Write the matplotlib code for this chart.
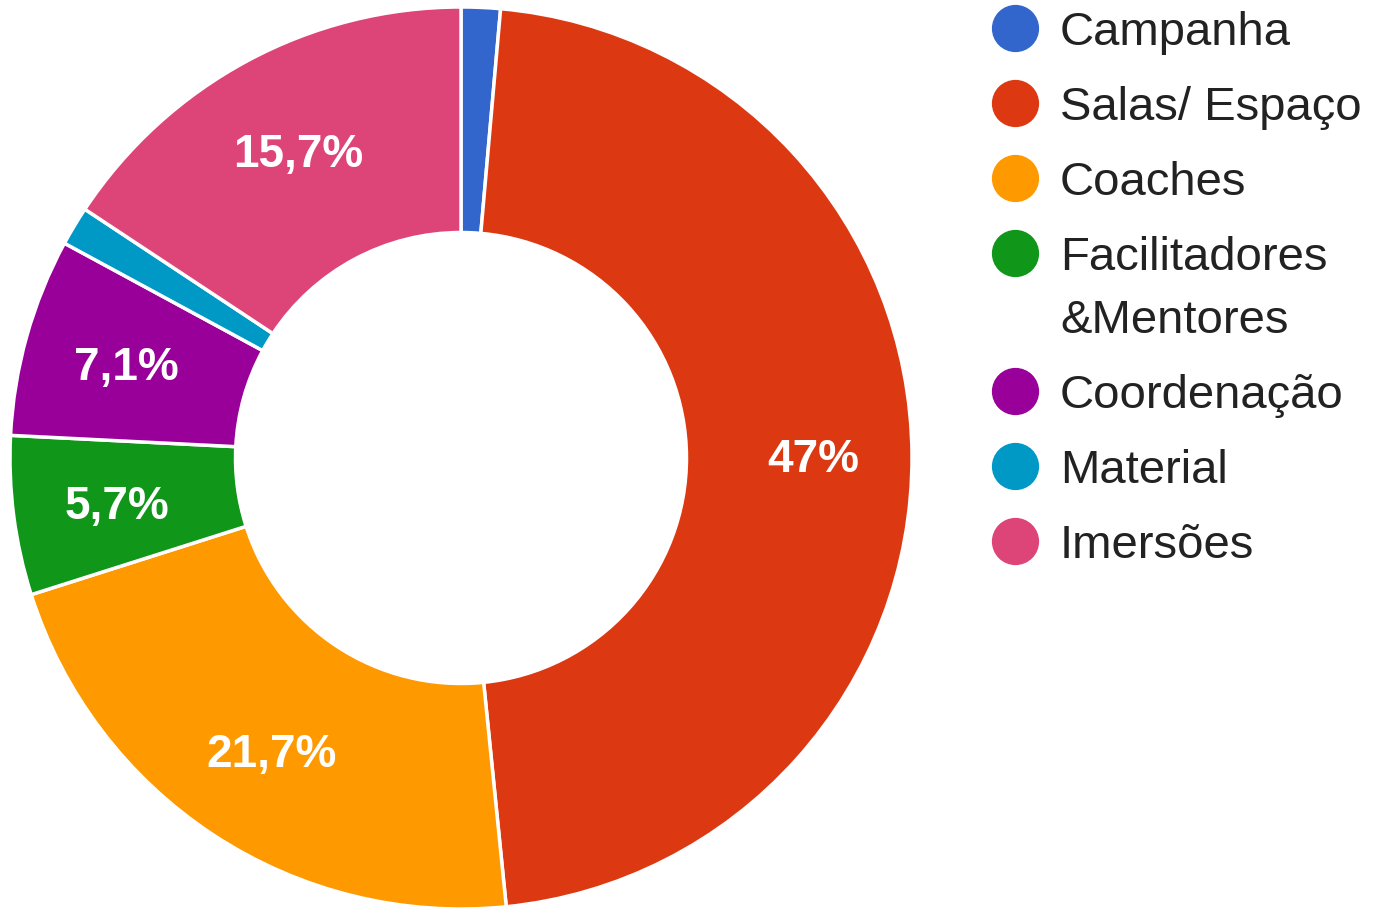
import matplotlib
matplotlib.use("Agg")
import matplotlib.pyplot as plt
import numpy as np
from matplotlib.lines import Line2D

plt.rcParams['font.family'] = ['Liberation Sans', 'DejaVu Sans']

# data
categories = ["Campanha", "Salas/ Espaço", "Coaches", "Facilitadores\n&Mentores",
              "Coordenação", "Material", "Imersões"]
values = [1.4, 47.0, 21.7, 5.7, 7.1, 1.4, 15.7]
labels = ["", "47%", "21,7%", "5,7%", "7,1%", "", "15,7%"]
colors = ["#3366cc", "#dc3912", "#ff9900", "#109618", "#990099", "#0099c6", "#dd4477"]

W, H = 1383, 908
fig = plt.figure(figsize=(W / 100, H / 100), dpi=100)
ax = fig.add_axes([10 / W, -1 / H, 902 / W, 902 / H])

wedges, _ = ax.pie(values, colors=colors, startangle=90, counterclock=False,
                   radius=1.0, wedgeprops=dict(width=0.5, edgecolor="white", linewidth=2.5))

# percentage labels in the middle of the ring
total = sum(values)
start = 90.0
for v, lab in zip(values, labels):
    mid = start - v / total * 360 / 2
    start -= v / total * 360
    if not lab:
        continue
    r = 0.775
    ax.text(r * np.cos(np.radians(mid)) + 0.005, r * np.sin(np.radians(mid)) - 0.01, lab,
            ha="center", va="center", color="white", fontsize=33, fontweight="bold")

ax.set_xlim(-1, 1)
ax.set_ylim(-1, 1)
ax.set_aspect("equal")
ax.axis("off")

# legend drawn by hand so the marker lines up with the first line of a wrapped label
row_step, line_step = 75, 63
y = 28
for cat, c in zip(categories, colors):
    fig.add_artist(Line2D([1015 / W], [1 - y / H], marker="o", markersize=33, linestyle="",
                          markerfacecolor=c, markeredgecolor=c, transform=fig.transFigure))
    for j, line in enumerate(cat.split("\n")):
        fig.text(1060 / W, 1 - (y + 17 + j * line_step) / H, line, fontsize=34,
                 color="#222222", ha="left", va="baseline")
    y += row_step + line_step * cat.count("\n")

fig.savefig("out.png", dpi=100)
